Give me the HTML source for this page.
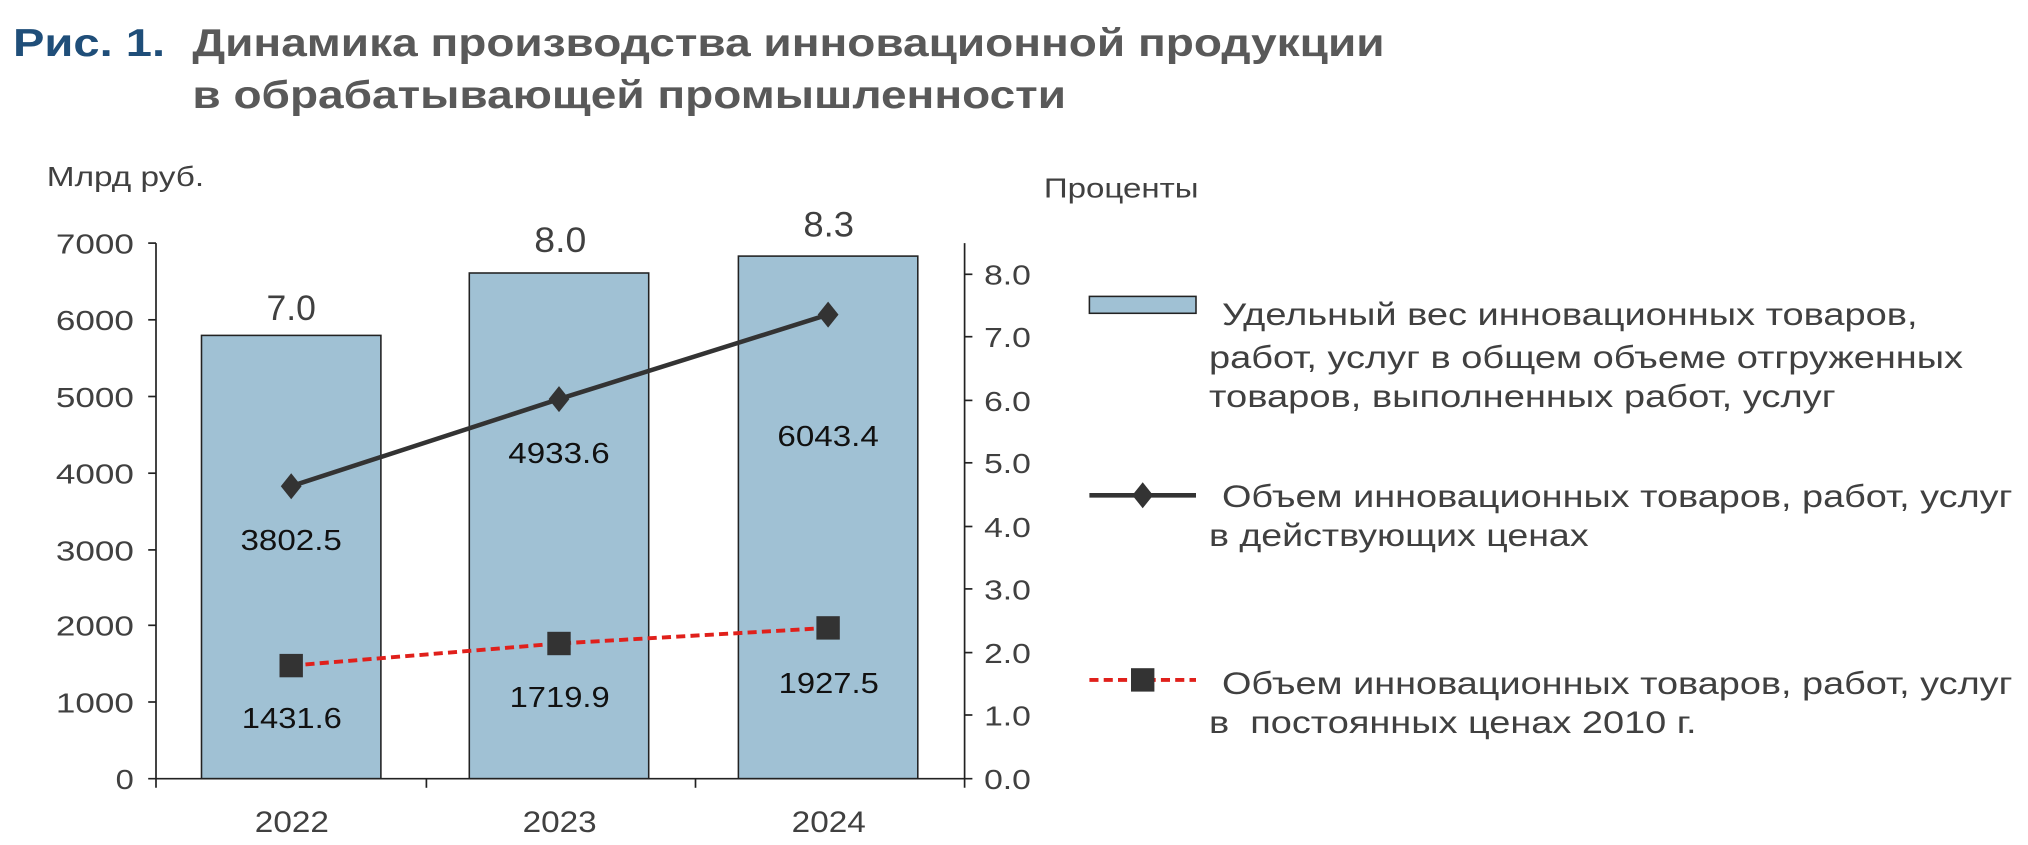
<!DOCTYPE html>
<html><head><meta charset="utf-8"><style>
html,body{margin:0;padding:0;background:#fff;}
svg{display:block;}
text{font-family:"Liberation Sans",Arial,sans-serif;}
</style></head><body>
<svg width="2028" height="845" viewBox="0 0 1560 650" preserveAspectRatio="none">
<text x="10" y="43" font-size="30" font-weight="bold" fill="#1f4e79" textLength="117" lengthAdjust="spacingAndGlyphs">Рис. 1.</text>
<text x="148" y="43" font-size="30" font-weight="bold" fill="#595959" textLength="917" lengthAdjust="spacingAndGlyphs">Динамика производства инновационной продукции</text>
<text x="148" y="83" font-size="30" font-weight="bold" fill="#595959" textLength="672" lengthAdjust="spacingAndGlyphs">в обрабатывающей промышленности</text>
<text x="36" y="143" font-size="21" fill="#404040" textLength="121" lengthAdjust="spacingAndGlyphs">Млрд руб.</text>
<text x="803" y="152" font-size="21" fill="#404040" textLength="119" lengthAdjust="spacingAndGlyphs">Проценты</text>
<g fill="#a0c1d4" stroke="#222" stroke-width="1.2">
<rect x="155" y="258" width="138" height="341"/>
<rect x="361" y="210" width="138" height="389"/>
<rect x="568" y="197" width="138" height="402"/>
</g>
<g stroke="#222" stroke-width="1.3">
<line x1="120" y1="187" x2="120" y2="606"/>
<line x1="742" y1="187" x2="742" y2="606"/>
<line x1="114" y1="599" x2="748" y2="599"/>
<line x1="114" y1="187" x2="120" y2="187"/><line x1="114" y1="246" x2="120" y2="246"/><line x1="114" y1="305" x2="120" y2="305"/><line x1="114" y1="364" x2="120" y2="364"/><line x1="114" y1="423" x2="120" y2="423"/><line x1="114" y1="481" x2="120" y2="481"/><line x1="114" y1="540" x2="120" y2="540"/>
<line x1="742" y1="211" x2="748" y2="211"/><line x1="742" y1="259" x2="748" y2="259"/><line x1="742" y1="308" x2="748" y2="308"/><line x1="742" y1="356" x2="748" y2="356"/><line x1="742" y1="405" x2="748" y2="405"/><line x1="742" y1="453" x2="748" y2="453"/><line x1="742" y1="502" x2="748" y2="502"/><line x1="742" y1="550" x2="748" y2="550"/>
<line x1="328" y1="599" x2="328" y2="606"/><line x1="535" y1="599" x2="535" y2="606"/>
</g>
<g font-size="21" fill="#404040">
<text x="43" y="195" textLength="60" lengthAdjust="spacingAndGlyphs">7000</text>
<text x="43" y="254" textLength="60" lengthAdjust="spacingAndGlyphs">6000</text>
<text x="43" y="313" textLength="60" lengthAdjust="spacingAndGlyphs">5000</text>
<text x="43" y="372" textLength="60" lengthAdjust="spacingAndGlyphs">4000</text>
<text x="43" y="431" textLength="60" lengthAdjust="spacingAndGlyphs">3000</text>
<text x="43" y="489" textLength="60" lengthAdjust="spacingAndGlyphs">2000</text>
<text x="43" y="548" textLength="60" lengthAdjust="spacingAndGlyphs">1000</text>
<text x="89" y="607" textLength="14" lengthAdjust="spacingAndGlyphs">0</text>
</g>
<g font-size="21" fill="#404040">
<text x="757" y="219" textLength="36" lengthAdjust="spacingAndGlyphs">8.0</text>
<text x="757" y="267" textLength="36" lengthAdjust="spacingAndGlyphs">7.0</text>
<text x="757" y="316" textLength="36" lengthAdjust="spacingAndGlyphs">6.0</text>
<text x="757" y="364" textLength="36" lengthAdjust="spacingAndGlyphs">5.0</text>
<text x="757" y="413" textLength="36" lengthAdjust="spacingAndGlyphs">4.0</text>
<text x="757" y="461" textLength="36" lengthAdjust="spacingAndGlyphs">3.0</text>
<text x="757" y="510" textLength="36" lengthAdjust="spacingAndGlyphs">2.0</text>
<text x="757" y="558" textLength="36" lengthAdjust="spacingAndGlyphs">1.0</text>
<text x="757" y="607" textLength="36" lengthAdjust="spacingAndGlyphs">0.0</text>
</g>
<g font-size="23" fill="#404040">
<text x="196" y="640" textLength="57" lengthAdjust="spacingAndGlyphs">2022</text>
<text x="402" y="640" textLength="57" lengthAdjust="spacingAndGlyphs">2023</text>
<text x="609" y="640" textLength="57" lengthAdjust="spacingAndGlyphs">2024</text>
</g>
<g font-size="27" fill="#404040">
<text x="205" y="246" textLength="38" lengthAdjust="spacingAndGlyphs">7.0</text>
<text x="411" y="194" textLength="40" lengthAdjust="spacingAndGlyphs">8.0</text>
<text x="618" y="182" textLength="39" lengthAdjust="spacingAndGlyphs">8.3</text>
</g>
<polyline points="224,374 430,307 637,242" fill="none" stroke="#333" stroke-width="3.5"/>
<g fill="#333">
<polygon points="224,364 232,374 224,384 216,374"/>
<polygon points="430,297 438,307 430,317 422,307"/>
<polygon points="637,232 645,242 637,252 629,242"/>
</g>
<polyline points="224,512 430,495 637,483" fill="none" stroke="#e0201b" stroke-width="3" stroke-dasharray="7,4"/>
<g fill="#333">
<rect x="215" y="503" width="18" height="18"/>
<rect x="421" y="486" width="18" height="18"/>
<rect x="628" y="474" width="18" height="18"/>
</g>
<g font-size="22" fill="#111">
<text x="185" y="423" textLength="78" lengthAdjust="spacingAndGlyphs">3802.5</text>
<text x="391" y="356" textLength="78" lengthAdjust="spacingAndGlyphs">4933.6</text>
<text x="598" y="343" textLength="78" lengthAdjust="spacingAndGlyphs">6043.4</text>
<text x="186" y="560" textLength="77" lengthAdjust="spacingAndGlyphs">1431.6</text>
<text x="392" y="544" textLength="77" lengthAdjust="spacingAndGlyphs">1719.9</text>
<text x="599" y="533" textLength="77" lengthAdjust="spacingAndGlyphs">1927.5</text>
</g>
<rect x="838" y="228" width="82" height="13" fill="#a0c1d4" stroke="#222" stroke-width="1.2"/>
<line x1="838" y1="381" x2="920" y2="381" stroke="#333" stroke-width="3.5"/>
<polygon points="879,371 887,381 879,391 871,381" fill="#333"/>
<line x1="838" y1="523" x2="920" y2="523" stroke="#e0201b" stroke-width="3" stroke-dasharray="7,4"/>
<rect x="870" y="514" width="18" height="18" fill="#333"/>
<g font-size="24" fill="#404040">
<text x="940" y="250" textLength="535" lengthAdjust="spacingAndGlyphs">Удельный вес инновационных товаров,</text>
<text x="930" y="283" textLength="580" lengthAdjust="spacingAndGlyphs">работ, услуг в общем объеме отгруженных</text>
<text x="930" y="313" textLength="482" lengthAdjust="spacingAndGlyphs">товаров, выполненных работ, услуг</text>
<text x="940" y="390" textLength="608" lengthAdjust="spacingAndGlyphs">Объем инновационных товаров, работ, услуг</text>
<text x="930" y="420" textLength="292" lengthAdjust="spacingAndGlyphs">в действующих ценах</text>
<text x="940" y="534" textLength="608" lengthAdjust="spacingAndGlyphs">Объем инновационных товаров, работ, услуг</text>
<text x="930" y="564" xml:space="preserve" textLength="375" lengthAdjust="spacingAndGlyphs">в  постоянных ценах 2010 г.</text>
</g>
</svg>
</body></html>
